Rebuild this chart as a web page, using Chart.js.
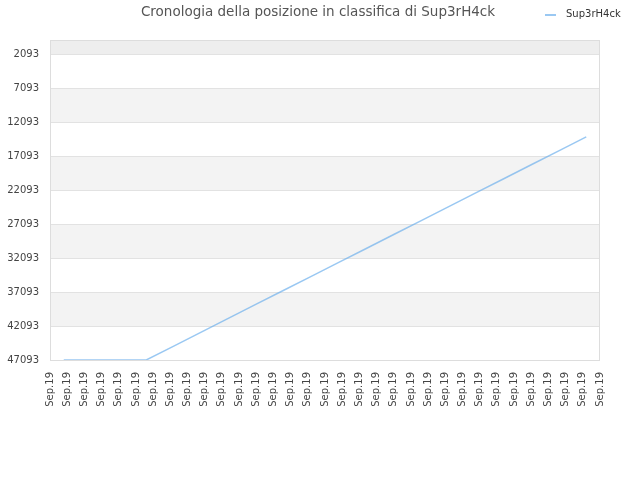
<!DOCTYPE html>
<html>
<head>
<meta charset="utf-8">
<title>Cronologia della posizione in classifica di Sup3rH4ck</title>
<script src="https://cdn.jsdelivr.net/npm/chart.js@4.4.1/dist/chart.umd.min.js"></script>
<style>
  html, body { margin: 0; padding: 0; background: #fff; }
  canvas { display: block; }
</style>
</head>
<body>
<canvas id="myChart" width="640" height="480"></canvas>
<script>
// dati
var chartTitle = 'Cronologia della posizione in classifica di Sup3rH4ck';
var seriesName = 'Sup3rH4ck';

// una etichetta per ogni punto della serie
var pointLabels = [
    'Sep.19', 'Sep.19', 'Sep.19', 'Sep.19', 'Sep.19',
    'Sep.19', 'Sep.19', 'Sep.19', 'Sep.19', 'Sep.19',
    'Sep.19', 'Sep.19', 'Sep.19', 'Sep.19', 'Sep.19',
    'Sep.19', 'Sep.19', 'Sep.19', 'Sep.19', 'Sep.19'
];

// posizione in classifica
var rankValues = [
    47093, 47093, 47093, 47093, 45050,
    42990, 40940, 38880, 36830, 34780,
    32730, 30680, 28620, 26570, 24520,
    22470, 20420, 18360, 16310, 14255
];

// etichette dell'asse x
var xTickLabels = [
    'Sep.19', 'Sep.19', 'Sep.19', 'Sep.19', 'Sep.19', 'Sep.19',
    'Sep.19', 'Sep.19', 'Sep.19', 'Sep.19', 'Sep.19', 'Sep.19',
    'Sep.19', 'Sep.19', 'Sep.19', 'Sep.19', 'Sep.19', 'Sep.19',
    'Sep.19', 'Sep.19', 'Sep.19', 'Sep.19', 'Sep.19', 'Sep.19',
    'Sep.19', 'Sep.19', 'Sep.19', 'Sep.19', 'Sep.19', 'Sep.19',
    'Sep.19', 'Sep.19', 'Sep.19'
];

// valori dell'asse y
var yTickValues = [2093, 7093, 12093, 17093, 22093, 27093, 32093, 37093, 42093, 47093];
var yMin = 0;
var yMax = 47093;

var FONT = 'DejaVu Sans';

// fasce alternate dietro al grafico + bordo
var bandsPlugin = {
    id: 'bands',
    beforeDraw: function(chart) {
        var area = chart.chartArea;
        var y = chart.scales.y;
        var ctx = chart.ctx;
        var edges = [area.bottom];
        for (var i = yTickValues.length - 1; i >= 0; i--) {
            var p = y.getPixelForValue(yTickValues[i]);
            if (p < area.bottom - 0.5 && p > area.top + 0.5) edges.push(p);
        }
        edges.push(area.top);
        ctx.save();
        for (var j = 0; j < edges.length - 1; j++) {
            if (j % 2 === 1) {
                ctx.fillStyle = (j === edges.length - 2) ? '#eeeeee' : '#f3f3f3';
                ctx.fillRect(area.left, edges[j + 1], area.right - area.left, edges[j] - edges[j + 1]);
            }
        }
        ctx.restore();
    },
    afterDraw: function(chart) {
        var area = chart.chartArea;
        var ctx = chart.ctx;
        ctx.save();
        ctx.strokeStyle = '#dddddd';
        ctx.lineWidth = 1;
        ctx.strokeRect(Math.round(area.left) + 0.5, Math.round(area.top) + 0.5,
            Math.round(area.right - area.left) - 1, Math.round(area.bottom - area.top));
        ctx.restore();
    }
};

// titolo e legenda sulla stessa riga
var headerPlugin = {
    id: 'header',
    afterDraw: function(chart) {
        var ctx = chart.ctx;
        var ds = chart.data.datasets[0];
        ctx.save();
        ctx.textBaseline = 'middle';
        ctx.fillStyle = '#555555';
        ctx.font = '13.5px "' + FONT + '"';
        ctx.textAlign = 'center';
        ctx.fillText(chartTitle, 318, 12);

        ctx.strokeStyle = ds.borderColor;
        ctx.lineWidth = 2;
        ctx.beginPath();
        ctx.moveTo(545, 15);
        ctx.lineTo(556, 15);
        ctx.stroke();

        ctx.fillStyle = '#333333';
        ctx.font = '10px "' + FONT + '"';
        ctx.textAlign = 'left';
        ctx.fillText(ds.label, 566, 14);
        ctx.restore();
    }
};

var ctx = document.getElementById('myChart').getContext('2d');
var chart = new Chart(ctx, {
    type: 'line',
    data: {
        labels: pointLabels,
        datasets: [{
            label: seriesName,
            data: rankValues,
            borderColor: 'rgba(100, 170, 235, 0.65)',
            backgroundColor: 'rgba(100, 170, 235, 0.65)',
            borderWidth: 1.5,
            pointRadius: 0,
            fill: false,
            tension: 0,
            xAxisID: 'x',
            yAxisID: 'y'
        }]
    },
    plugins: [bandsPlugin, headerPlugin],
    options: {
        responsive: false,
        animation: false,
        devicePixelRatio: 1,
        layout: {
            padding: { top: 40, right: 40, bottom: 0, left: 0 }
        },
        plugins: {
            legend: { display: false },
            title: { display: false },
            tooltip: { enabled: false }
        },
        scales: {
            x: {
                type: 'category',
                offset: true,
                display: false
            },
            x2: {
                type: 'category',
                labels: xTickLabels,
                position: 'bottom',
                offset: false,
                grid: { display: false, drawTicks: false, tickLength: 0 },
                border: { display: false },
                ticks: {
                    autoSkip: false,
                    minRotation: 90,
                    maxRotation: 90,
                    padding: 12,
                    color: '#444444',
                    font: { family: FONT, size: 10 }
                },
                afterFit: function(scale) { scale.height = 120; }
            },
            y: {
                type: 'linear',
                reverse: true,
                min: yMin,
                max: yMax,
                afterBuildTicks: function(scale) {
                    scale.ticks = yTickValues.map(function(v) { return { value: v }; });
                },
                afterFit: function(scale) { scale.width = 50; },
                grid: { color: '#e2e2e2', drawTicks: false, tickLength: 0 },
                border: { display: false },
                ticks: {
                    padding: 11,
                    color: '#444444',
                    font: { family: FONT, size: 10 },
                    callback: function(value) { return String(value); }
                }
            }
        }
    }
});
</script>
</body>
</html>
